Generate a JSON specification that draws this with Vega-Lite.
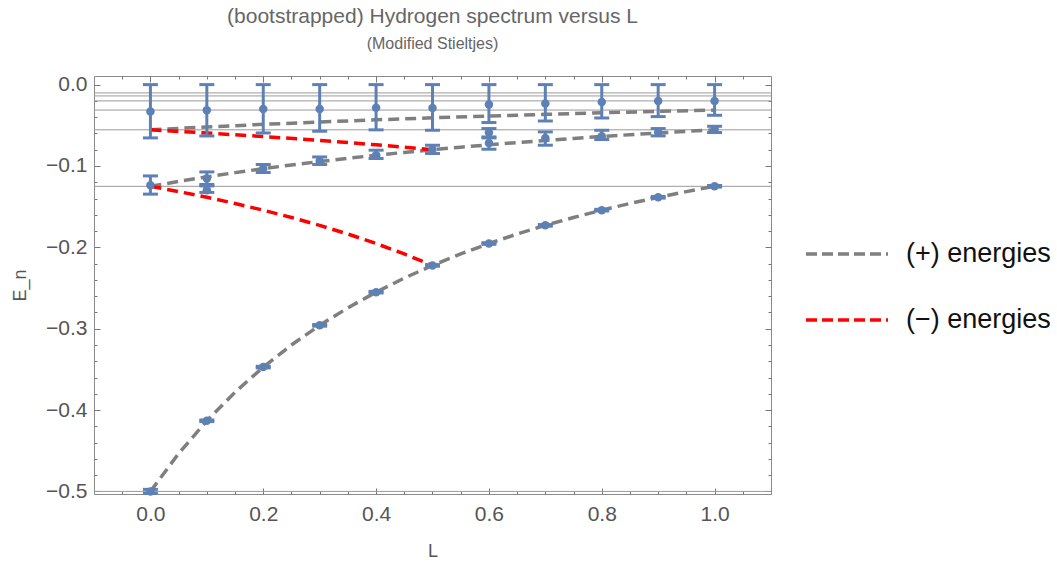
{
  "$schema": "https://vega.github.io/schema/vega-lite/v6.json",
  "autosize": "none",
  "width": 677,
  "height": 418,
  "padding": {"left": 94, "top": 76, "right": 286, "bottom": 67},
  "background": "white",
  "config": {
    "view": {"stroke": "#8a8a8a", "strokeWidth": 1},
    "font": "Liberation Sans"
  },
  "title": {
    "text": "(bootstrapped) Hydrogen spectrum versus L",
    "subtitle": "(Modified Stieltjes)",
    "fontSize": 21,
    "subtitleFontSize": 16,
    "font": "Liberation Sans",
    "subtitleFont": "Liberation Sans",
    "fontWeight": "normal",
    "color": "#666666",
    "subtitleColor": "#666666",
    "anchor": "middle",
    "frame": "group",
    "offset": 22,
    "subtitlePadding": 9
  },
  "datasets": {
    "grid": [
      {"E": -0.5}, {"E": -0.125}, {"E": -0.05556}, {"E": -0.03125}, {"E": -0.02}, {"E": -0.01389}, {"E": -0.0102}
    ],
    "curves": [
      {"L": 0, "E": -0.5, "c": "p1", "s": "(+) energies"},
      {"L": 0.05, "E": -0.45351, "c": "p1", "s": "(+) energies"},
      {"L": 0.1, "E": -0.41322, "c": "p1", "s": "(+) energies"},
      {"L": 0.15, "E": -0.37807, "c": "p1", "s": "(+) energies"},
      {"L": 0.2, "E": -0.34722, "c": "p1", "s": "(+) energies"},
      {"L": 0.25, "E": -0.32, "c": "p1", "s": "(+) energies"},
      {"L": 0.3, "E": -0.29586, "c": "p1", "s": "(+) energies"},
      {"L": 0.35, "E": -0.27435, "c": "p1", "s": "(+) energies"},
      {"L": 0.4, "E": -0.2551, "c": "p1", "s": "(+) energies"},
      {"L": 0.45, "E": -0.23781, "c": "p1", "s": "(+) energies"},
      {"L": 0.5, "E": -0.22222, "c": "p1", "s": "(+) energies"},
      {"L": 0.55, "E": -0.20812, "c": "p1", "s": "(+) energies"},
      {"L": 0.6, "E": -0.19531, "c": "p1", "s": "(+) energies"},
      {"L": 0.65, "E": -0.18365, "c": "p1", "s": "(+) energies"},
      {"L": 0.7, "E": -0.17301, "c": "p1", "s": "(+) energies"},
      {"L": 0.75, "E": -0.16327, "c": "p1", "s": "(+) energies"},
      {"L": 0.8, "E": -0.15432, "c": "p1", "s": "(+) energies"},
      {"L": 0.85, "E": -0.14609, "c": "p1", "s": "(+) energies"},
      {"L": 0.9, "E": -0.1385, "c": "p1", "s": "(+) energies"},
      {"L": 0.95, "E": -0.13149, "c": "p1", "s": "(+) energies"},
      {"L": 1.0, "E": -0.125, "c": "p1", "s": "(+) energies"},
      {"L": 0, "E": -0.125, "c": "p2", "s": "(+) energies"},
      {"L": 0.05, "E": -0.11898, "c": "p2", "s": "(+) energies"},
      {"L": 0.1, "E": -0.11338, "c": "p2", "s": "(+) energies"},
      {"L": 0.15, "E": -0.10817, "c": "p2", "s": "(+) energies"},
      {"L": 0.2, "E": -0.10331, "c": "p2", "s": "(+) energies"},
      {"L": 0.25, "E": -0.09877, "c": "p2", "s": "(+) energies"},
      {"L": 0.3, "E": -0.09452, "c": "p2", "s": "(+) energies"},
      {"L": 0.35, "E": -0.09054, "c": "p2", "s": "(+) energies"},
      {"L": 0.4, "E": -0.08681, "c": "p2", "s": "(+) energies"},
      {"L": 0.45, "E": -0.0833, "c": "p2", "s": "(+) energies"},
      {"L": 0.5, "E": -0.08, "c": "p2", "s": "(+) energies"},
      {"L": 0.55, "E": -0.07689, "c": "p2", "s": "(+) energies"},
      {"L": 0.6, "E": -0.07396, "c": "p2", "s": "(+) energies"},
      {"L": 0.65, "E": -0.0712, "c": "p2", "s": "(+) energies"},
      {"L": 0.7, "E": -0.06859, "c": "p2", "s": "(+) energies"},
      {"L": 0.75, "E": -0.06612, "c": "p2", "s": "(+) energies"},
      {"L": 0.8, "E": -0.06378, "c": "p2", "s": "(+) energies"},
      {"L": 0.85, "E": -0.06156, "c": "p2", "s": "(+) energies"},
      {"L": 0.9, "E": -0.05945, "c": "p2", "s": "(+) energies"},
      {"L": 0.95, "E": -0.05745, "c": "p2", "s": "(+) energies"},
      {"L": 1.0, "E": -0.05556, "c": "p2", "s": "(+) energies"},
      {"L": 0, "E": -0.05556, "c": "p3", "s": "(+) energies"},
      {"L": 0.1, "E": -0.05203, "c": "p3", "s": "(+) energies"},
      {"L": 0.2, "E": -0.04883, "c": "p3", "s": "(+) energies"},
      {"L": 0.3, "E": -0.04591, "c": "p3", "s": "(+) energies"},
      {"L": 0.4, "E": -0.04325, "c": "p3", "s": "(+) energies"},
      {"L": 0.5, "E": -0.04082, "c": "p3", "s": "(+) energies"},
      {"L": 0.6, "E": -0.03858, "c": "p3", "s": "(+) energies"},
      {"L": 0.7, "E": -0.03652, "c": "p3", "s": "(+) energies"},
      {"L": 0.8, "E": -0.03463, "c": "p3", "s": "(+) energies"},
      {"L": 0.9, "E": -0.03287, "c": "p3", "s": "(+) energies"},
      {"L": 1.0, "E": -0.03125, "c": "p3", "s": "(+) energies"},
      {"L": 0, "E": -0.5, "c": "m1", "s": "(−) energies"},
      {"L": 0.01, "E": -0.51015, "c": "m1", "s": "(−) energies"},
      {"L": 0, "E": -0.125, "c": "m2", "s": "(−) energies"},
      {"L": 0.05, "E": -0.13149, "c": "m2", "s": "(−) energies"},
      {"L": 0.1, "E": -0.1385, "c": "m2", "s": "(−) energies"},
      {"L": 0.15, "E": -0.14609, "c": "m2", "s": "(−) energies"},
      {"L": 0.2, "E": -0.15432, "c": "m2", "s": "(−) energies"},
      {"L": 0.25, "E": -0.16327, "c": "m2", "s": "(−) energies"},
      {"L": 0.3, "E": -0.17301, "c": "m2", "s": "(−) energies"},
      {"L": 0.35, "E": -0.18365, "c": "m2", "s": "(−) energies"},
      {"L": 0.4, "E": -0.19531, "c": "m2", "s": "(−) energies"},
      {"L": 0.45, "E": -0.20812, "c": "m2", "s": "(−) energies"},
      {"L": 0.5, "E": -0.22222, "c": "m2", "s": "(−) energies"},
      {"L": 0, "E": -0.05556, "c": "m3", "s": "(−) energies"},
      {"L": 0.1, "E": -0.05945, "c": "m3", "s": "(−) energies"},
      {"L": 0.2, "E": -0.06378, "c": "m3", "s": "(−) energies"},
      {"L": 0.3, "E": -0.06859, "c": "m3", "s": "(−) energies"},
      {"L": 0.4, "E": -0.07396, "c": "m3", "s": "(−) energies"},
      {"L": 0.5, "E": -0.08, "c": "m3", "s": "(−) energies"}
    ],
    "pts": [
      {"L": 0, "E": -0.033, "lo": -0.0655, "hi": 0},
      {"L": 0.1, "E": -0.0315, "lo": -0.0631, "hi": 0},
      {"L": 0.2, "E": -0.03, "lo": -0.0594, "hi": 0},
      {"L": 0.3, "E": -0.03, "lo": -0.0573, "hi": 0},
      {"L": 0.4, "E": -0.0285, "lo": -0.0556, "hi": 0},
      {"L": 0.5, "E": -0.0287, "lo": -0.0561, "hi": 0},
      {"L": 0.6, "E": -0.0245, "lo": -0.0466, "hi": 0},
      {"L": 0.7, "E": -0.0233, "lo": -0.0447, "hi": 0},
      {"L": 0.8, "E": -0.0214, "lo": -0.041, "hi": 0},
      {"L": 0.9, "E": -0.0201, "lo": -0.0393, "hi": 0},
      {"L": 1.0, "E": -0.0201, "lo": -0.0377, "hi": 0},
      {"L": 0, "E": -0.1236, "lo": -0.1346, "hi": -0.1122},
      {"L": 0.1, "E": -0.1154, "lo": -0.1227, "hi": -0.1073},
      {"L": 0.1, "E": -0.1297, "lo": -0.1325, "hi": -0.1245},
      {"L": 0.2, "E": -0.1031, "lo": -0.108, "hi": -0.0982},
      {"L": 0.3, "E": -0.0938, "lo": -0.0982, "hi": -0.0889},
      {"L": 0.4, "E": -0.0868, "lo": -0.0908, "hi": -0.0806},
      {"L": 0.5, "E": -0.0798, "lo": -0.0847, "hi": -0.0745},
      {"L": 0.6, "E": -0.0589, "lo": -0.0643, "hi": -0.054},
      {"L": 0.6, "E": -0.0717, "lo": -0.0794, "hi": -0.0655},
      {"L": 0.7, "E": -0.0655, "lo": -0.0745, "hi": -0.0581},
      {"L": 0.8, "E": -0.0635, "lo": -0.0675, "hi": -0.0561},
      {"L": 0.9, "E": -0.0585, "lo": -0.063, "hi": -0.054},
      {"L": 1.0, "E": -0.0549, "lo": -0.0589, "hi": -0.0512},
      {"L": 0, "E": -0.5, "lo": -0.5025, "hi": -0.4975},
      {"L": 0.1, "E": -0.4132, "lo": -0.4142, "hi": -0.4122},
      {"L": 0.2, "E": -0.3472, "lo": -0.3482, "hi": -0.3462},
      {"L": 0.3, "E": -0.2959, "lo": -0.2969, "hi": -0.2949},
      {"L": 0.4, "E": -0.2551, "lo": -0.2561, "hi": -0.2541},
      {"L": 0.5, "E": -0.2222, "lo": -0.2232, "hi": -0.2212},
      {"L": 0.6, "E": -0.1953, "lo": -0.1963, "hi": -0.1943},
      {"L": 0.7, "E": -0.173, "lo": -0.174, "hi": -0.172},
      {"L": 0.8, "E": -0.1543, "lo": -0.1553, "hi": -0.1533},
      {"L": 0.9, "E": -0.1385, "lo": -0.1395, "hi": -0.1375},
      {"L": 1.0, "E": -0.125, "lo": -0.126, "hi": -0.124}
    ]
  },
  "resolve": {"axis": {"x": "independent", "y": "independent"}},
  "layer": [
    {
      "data": {"name": "grid"},
      "mark": {"type": "rule", "color": "#9a9a9a", "strokeWidth": 1},
      "encoding": {
        "y": {"field": "E", "type": "quantitative", "scale": {"domain": [-0.5032, 0.0106], "nice": false, "zero": false}, "axis": null}
      }
    },
    {
      "data": {"name": "curves"},
      "mark": {"type": "line", "strokeWidth": 3.5, "strokeDash": [11, 6], "clip": true},
      "encoding": {
        "x": {
          "field": "L", "type": "quantitative",
          "scale": {"domain": [-0.1, 1.1], "nice": false, "zero": false},
          "axis": {
            "orient": "bottom", "title": "L", "domain": false, "grid": false,
            "values": [-0.05, 0, 0.05, 0.1, 0.15, 0.2, 0.25, 0.3, 0.35, 0.4, 0.45, 0.5, 0.55, 0.6, 0.65, 0.7, 0.75, 0.8, 0.85, 0.9, 0.95, 1.0, 1.05],
            "format": ".1f",
            "labelExpr": "abs(datum.value*5 - round(datum.value*5)) < 0.001 ? datum.label : ''",
            "labelOverlap": false,
            "labelFontSize": 21, "labelColor": "#555555", "labelFont": "Liberation Sans", "labelPadding": 15,
            "tickColor": "#777777", "tickWidth": 1,
            "tickSize": {"condition": {"test": "abs(datum.value*5 - round(datum.value*5)) < 0.001", "value": -6}, "value": -3},
            "titleFontSize": 18, "titleFontWeight": "normal", "titleColor": "#555555", "titleFont": "Liberation Sans", "titlePadding": 15
          }
        },
        "y": {
          "field": "E", "type": "quantitative",
          "scale": {"domain": [-0.5032, 0.0106], "nice": false, "zero": false},
          "axis": {
            "orient": "left", "title": "E_n", "domain": false, "grid": false,
            "values": [-0.5, -0.48, -0.46, -0.44, -0.42, -0.4, -0.38, -0.36, -0.34, -0.32, -0.3, -0.28, -0.26, -0.24, -0.22, -0.2, -0.18, -0.16, -0.14, -0.12, -0.1, -0.08, -0.06, -0.04, -0.02, 0],
            "format": ".1f",
            "labelExpr": "abs(datum.value*10 - round(datum.value*10)) < 0.001 ? datum.label : ''",
            "labelOverlap": false,
            "labelFontSize": 21, "labelColor": "#555555", "labelFont": "Liberation Sans", "labelPadding": 13,
            "tickColor": "#777777", "tickWidth": 1,
            "tickSize": {"condition": {"test": "abs(datum.value*10 - round(datum.value*10)) < 0.001", "value": -6}, "value": -3},
            "titleFontSize": 18, "titleFontWeight": "normal", "titleColor": "#555555", "titleFont": "Liberation Sans", "titlePadding": 16
          }
        },
        "detail": {"field": "c", "type": "nominal"},
        "color": {
          "field": "s", "type": "nominal",
          "scale": {"domain": ["(+) energies", "(−) energies"], "range": ["#7f7f7f", "#ff0000"]},
          "legend": {
            "orient": "none", "legendX": 710, "legendY": 135, "title": null,
            "symbolType": "stroke", "symbolSize": 6724, "symbolStrokeWidth": 3.5, "symbolDash": [11, 5],
            "labelFontSize": 27, "labelColor": "#111111", "labelFont": "Liberation Sans", "labelOffset": 16,
            "rowPadding": 10, "labelLimit": 300
          }
        }
      }
    },
    {
      "data": {"name": "pts"},
      "mark": {"type": "errorbar", "color": "#5e81b5", "opacity": 1, "thickness": 3, "rule": {"strokeWidth": 3, "opacity": 1, "color": "#5e81b5"}, "ticks": {"size": 15, "thickness": 3, "opacity": 1, "color": "#5e81b5"}},
      "encoding": {
        "x": {"field": "L", "type": "quantitative", "scale": {"domain": [-0.1, 1.1], "nice": false, "zero": false}, "axis": null},
        "y": {"field": "lo", "type": "quantitative", "scale": {"domain": [-0.5032, 0.0106], "nice": false, "zero": false}, "axis": null},
        "y2": {"field": "hi"}
      }
    },
    {
      "data": {"name": "pts"},
      "mark": {"type": "point", "filled": true, "size": 72, "color": "#5e81b5", "opacity": 1},
      "encoding": {
        "x": {
          "field": "L", "type": "quantitative",
          "scale": {"domain": [-0.1, 1.1], "nice": false, "zero": false},
          "axis": {
            "orient": "top", "title": null, "domain": false, "grid": false, "labels": false,
            "values": [-0.05, 0, 0.05, 0.1, 0.15, 0.2, 0.25, 0.3, 0.35, 0.4, 0.45, 0.5, 0.55, 0.6, 0.65, 0.7, 0.75, 0.8, 0.85, 0.9, 0.95, 1.0, 1.05],
            "tickColor": "#777777", "tickWidth": 1,
            "tickSize": {"condition": {"test": "abs(datum.value*5 - round(datum.value*5)) < 0.001", "value": -6}, "value": -3}
          }
        },
        "y": {
          "field": "E", "type": "quantitative",
          "scale": {"domain": [-0.5032, 0.0106], "nice": false, "zero": false},
          "axis": {
            "orient": "right", "title": null, "domain": false, "grid": false, "labels": false,
            "values": [-0.5, -0.48, -0.46, -0.44, -0.42, -0.4, -0.38, -0.36, -0.34, -0.32, -0.3, -0.28, -0.26, -0.24, -0.22, -0.2, -0.18, -0.16, -0.14, -0.12, -0.1, -0.08, -0.06, -0.04, -0.02, 0],
            "tickColor": "#777777", "tickWidth": 1,
            "tickSize": {"condition": {"test": "abs(datum.value*10 - round(datum.value*10)) < 0.001", "value": -6}, "value": -3}
          }
        }
      }
    }
  ]
}
